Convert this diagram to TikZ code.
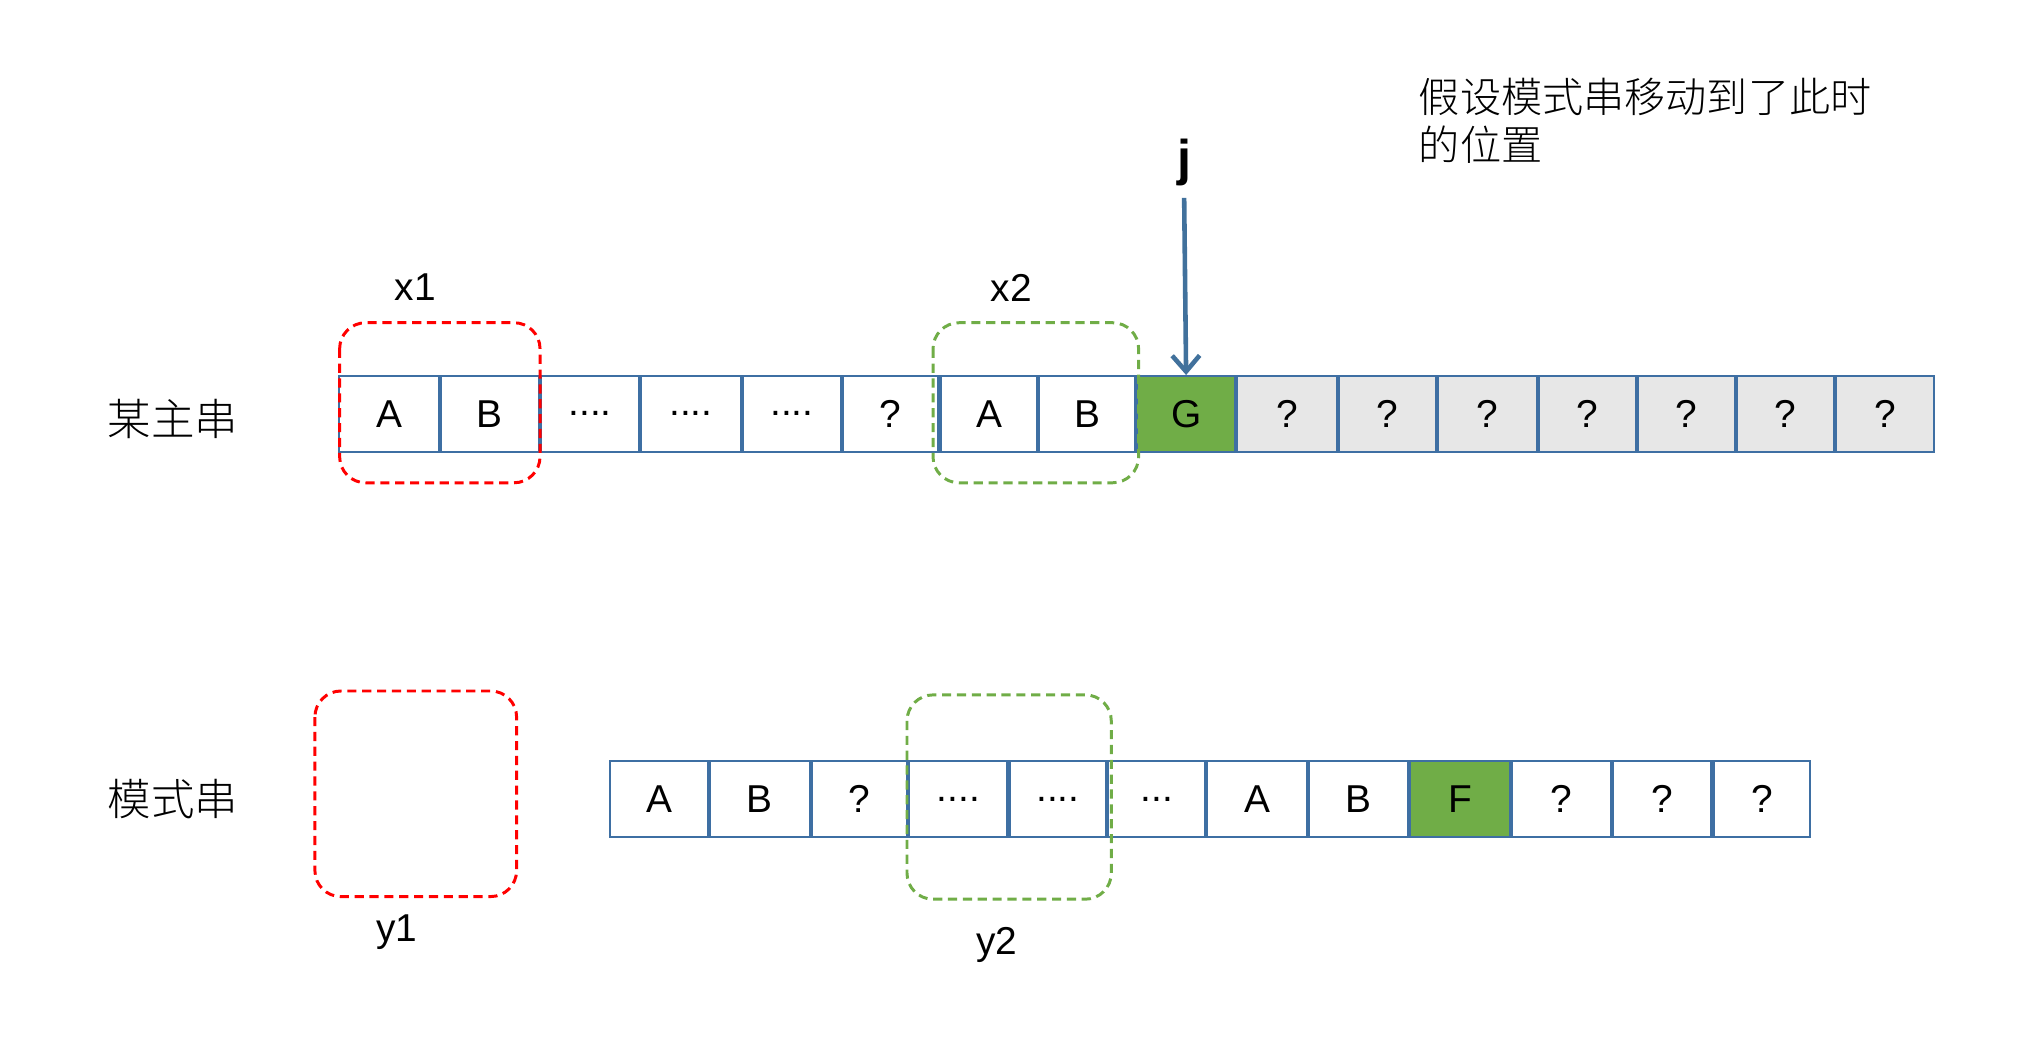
\documentclass[tikz,border=0pt]{standalone}
\usepackage{fontspec}
\usetikzlibrary{arrows.meta}
\setmainfont{Liberation Sans}
\newfontfamily\cjk{Noto Sans CJK SC Light}
\newcommand\fourdots{....}
\newcommand\threedots{...}
\definecolor{cellb}{HTML}{3E6FA3}
\definecolor{gfill}{HTML}{70AD47}
\definecolor{greyf}{HTML}{E7E7E7}
\definecolor{arr}{HTML}{41719C}
\begin{document}
\begin{tikzpicture}[x=0.02cm,y=-0.02cm,
  cell/.style={draw=cellb,line width=0.9pt,minimum height=1.16cm,inner sep=0pt,font=\fontsize{17}{20}\selectfont},
  gcell/.style={cell,fill=gfill},
  qcell/.style={cell,fill=greyf},
  rbox/.style={draw=red,dash pattern=on 4pt off 2.5pt,line width=1.3pt,rounded corners=0.4cm},
  gbox/.style={draw=gfill,dash pattern=on 4pt off 2.5pt,line width=1.3pt,rounded corners=0.4cm},
  lbl/.style={font=\fontsize{17}{20}\selectfont},
  cn/.style={font=\cjk\fontsize{19}{22}\selectfont}]
\useasboundingbox (0,0) rectangle (1560,802);
% top row
\foreach \a/\b/\t/\s [count=\i] in {260/338/A/cell,338/415/B/cell,415/492/\fourdots/cell,492/570/\fourdots/cell,570/647/\fourdots/cell,647/722/?/cell,722/798/A/cell,798/873/B/cell,873/950/G/gcell,950/1028/?/qcell,1028/1104/?/qcell,1104/1182/?/qcell,1182/1258/?/qcell,1258/1334/?/qcell,1334/1410/?/qcell,1410/1487/?/qcell}
  \node[\s,minimum width={(\b-\a)*0.02cm-0.9pt}] (t\i) at ({(\a+\b)/2},318) {\t};
% bottom row
\foreach \a/\b/\t/\s [count=\i] in {468/545/A/cell,545/623/B/cell,623/698/?/cell,698/775/\fourdots/cell,775/851/\fourdots/cell,851/927/\threedots/cell,927/1005/A/cell,1005/1083/B/cell,1083/1161/F/gcell,1161/1239/?/cell,1239/1316/?/cell,1316/1392/?/cell}
  \node[\s,minimum width={(\b-\a)*0.02cm-0.9pt}] (b\i) at ({(\a+\b)/2},614) {\t};
\draw[rbox] (261,248) rectangle (415,371);
\draw[gbox] (717,248) rectangle (875,371);
\draw[rbox] (242,531) rectangle (397,689);
\draw[gbox] (697,534) rectangle (854,691);
\node[lbl] (x1) at (319,221) {x1};
\node[lbl] (x2) at (777,221) {x2};
\node[lbl] (y1) at (305,716) {y1};
\node[lbl] (y2) at (766,726) {y2};
\node[font=\bfseries\fontsize{22}{24}\selectfont] (j) at (910,125) {j};
\coordinate (js) at (910,152);
\draw[arr,line width=2pt,-{Straight Barb[length=7pt,width=12pt]}] (js) -- (t9.north);
\node[cn,font=\cjk\fontsize{18}{21}\selectfont,anchor=north west,align=left,inner sep=0pt] (note) at (1090,60) {假设模式串移动到了此时\\的位置};
\node[cn] (l1) at (133,322) {某主串};
\node[cn] (l2) at (133,614) {模式串};
\end{tikzpicture}
\end{document}
